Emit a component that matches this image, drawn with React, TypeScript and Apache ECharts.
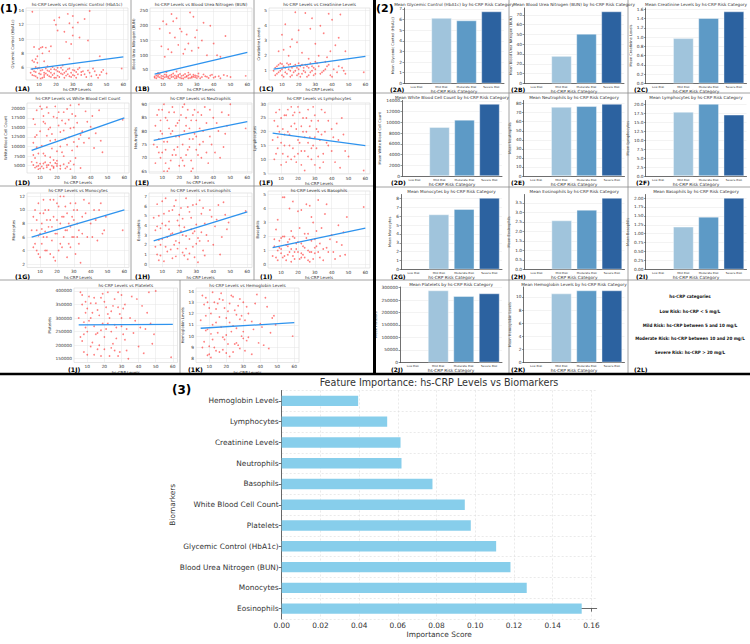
import React, { useEffect, useRef } from "react";
import * as echarts from "echarts";

// ---------------- DATA ----------------
const crpTicks = [10, 20, 30, 40, 50, 60];

const hba1cPts = [[6,13.8],[7,8.9],[8,7.2],[6,7.0],[7,6.8],[9,6.7],[10,8.6],[12,8.9],[14,8.8],[17,9.0],[12,8.0],[20,12.0],[21,11.2],[22,13.0],[26,9.6],[28,12.2],[29,9.3],[30,13.2],[30,11.6],[30,10.5],[33,12.3],[37,12.8],[39,9.8],[40,13.9],[46,7.6],[28,7.3],[59,5.9],[6,5.0],[7,5.5],[8,4.8],[9,5.9],[10,5.2],[11,5.6],[12,4.6],[13,5.3],[14,5.9],[15,5.0],[16,5.5],[17,4.7],[18,6.1],[19,5.2],[20,5.7],[21,4.9],[22,5.4],[23,6.0],[24,5.1],[25,4.6],[26,5.5],[27,5.8],[28,4.8],[29,5.3],[30,5.7],[31,4.9],[32,5.4],[34,6.0],[35,5.0],[36,5.5],[38,4.7],[40,5.3],[42,5.9],[44,5.0],[45,4.6],[47,5.4],[50,5.2],[8,6.1],[11,4.5],[15,6.2],[19,4.6],[24,6.3],[33,5.1],[13,5.0],[17,5.8],[21,6.0],
  [5,5.3],[6,5.8],[7,4.9],[8,5.4],[9,4.6],[10,6.0],[11,5.1],[12,5.7],[13,4.7],[14,5.2],[15,5.6],[16,4.8],[17,5.3],[18,5.0],[19,5.8],[20,4.6],[21,5.5],[22,4.7],[23,5.2],[24,5.7],[25,5.3],[26,4.9],[27,5.1],[28,5.9],[29,4.7],[30,5.0],[31,5.6],[32,4.6],[33,5.8],[35,5.4],[37,5.1],[39,5.6],[41,4.8],[43,5.5],[46,5.0],[48,5.7],[9,7.6],[11,8.8],[13,6.9],[16,8.3],[19,12.6],[25,11.0],[34,10.2],[27,13.5]];
const bunPts = [[8,190],[10,215],[12,205],[13,120],[14,175],[15,110],[17,160],[18,225],[19,135],[21,180],[22,105],[24,170],[25,140],[27,115],[28,230],[30,185],[31,125],[33,150],[36,100],[38,200],[40,140],[44,95],[47,165],[11,95],[26,245],[5,28],[6,22],[7,33],[8,25],[9,30],[10,20],[11,35],[12,27],[13,23],[14,31],[15,26],[16,38],[17,22],[18,29],[19,33],[20,24],[21,30],[22,21],[23,36],[24,27],[25,32],[26,23],[27,28],[28,34],[29,25],[30,30],[32,22],[34,35],[36,27],[38,31],[40,24],[43,29],[46,33],[50,26],[59,30],[7,40],[12,42],[18,45],[25,41],[31,38],
  [5,24],[6,31],[7,27],[8,36],[9,22],[10,29],[11,25],[12,33],[13,28],[14,21],[15,34],[16,27],[17,31],[18,23],[19,27],[20,36],[21,22],[22,32],[23,25],[24,30],[25,22],[26,35],[27,24],[28,27],[29,31],[30,23],[31,28],[33,26],[35,29],[37,23],[39,34],[41,27],[44,22],[48,30],[9,130],[16,215],[20,190],[23,120],[29,160],[34,210],[42,100],[15,240]];
const creatPts = [[10,3.4],[12,4.1],[15,2.6],[18,4.9],[20,3.7],[22,2.2],[24,4.85],[28,4.5],[30,2.8],[32,2.0],[35,3.5],[38,4.8],[40,4.4],[42,2.7],[45,4.75],[14,2.0],[26,1.8],[37,1.9],[48,2.3],[8,2.3],[6,1.2],[7,0.8],[8,1.4],[9,1.0],[10,0.7],[11,1.3],[12,0.9],[13,1.5],[14,1.1],[15,0.6],[16,1.2],[17,0.9],[18,1.4],[19,0.7],[20,1.1],[21,1.3],[22,0.8],[23,1.0],[24,1.4],[25,0.6],[26,1.2],[27,0.9],[28,1.3],[29,0.7],[30,1.1],[31,1.5],[33,0.8],[35,1.0],[37,1.3],[39,0.7],[41,1.1],[43,0.9],[46,1.2],[48,0.8],[59,0.9],[10,1.45],[15,1.45],[20,1.5],[30,1.6],[36,1.6],
  [5,1.0],[6,0.7],[7,1.3],[8,0.9],[9,1.5],[10,1.1],[11,0.6],[12,1.2],[13,0.8],[14,1.4],[15,1.0],[16,0.7],[17,1.3],[18,1.0],[19,1.2],[20,0.8],[21,0.6],[22,1.4],[23,1.2],[24,0.9],[25,1.3],[26,0.7],[27,1.5],[28,1.0],[29,1.2],[30,0.8],[32,1.3],[34,0.9],[36,1.1],[38,1.4],[40,0.6],[44,1.3],[47,1.0],[11,2.4],[16,3.1],[19,2.9],[27,3.8],[33,4.0],[39,2.3],[44,3.2]];
const wbcPts = [[6,17200],[7,12500],[8,13000],[6,7800],[7,7000],[9,5000],[10,20500],[11,19800],[12,18000],[13,16000],[14,20300],[15,14500],[16,11500],[17,9500],[18,6500],[19,20500],[20,17500],[21,15500],[22,13800],[23,16800],[24,19000],[25,12000],[26,10500],[27,17000],[28,20800],[29,9000],[30,15000],[31,18000],[33,21000],[34,13000],[36,11000],[38,16500],[40,15200],[42,9600],[45,19500],[47,8500],[59,17000],[8,9800],[12,8200],[16,7200],[20,8800],[24,7500],[28,6200],[32,10000],[6,5200],[7,4500],[8,5800],[9,4100],[10,5500],[11,4800],[12,4300],[13,5900],[14,4600],[15,5200],[16,4000],[17,5000],[18,4400],[19,5700],[20,4900],[22,4200],[24,5400],[26,4700],[28,4100],[30,5300],[34,4400],
  [5,6000],[6,11000],[7,15800],[8,19500],[9,8200],[10,14000],[11,10200],[12,16500],[13,7600],[14,12800],[15,18800],[16,15000],[17,13300],[18,17800],[19,11800],[20,6300],[21,19000],[22,10000],[23,8500],[24,14200],[25,16000],[26,19800],[27,12400],[28,14800],[29,18500],[30,11200],[31,7000],[32,16200],[33,12000],[35,14000],[37,19200],[39,12200],[41,18000],[43,13500],[46,11500],[8,4800],[10,4300],[12,5600],[14,5100],[16,5800],[18,4700],[20,5500],[22,5000],[25,4300],[27,5700]];
const neutPts = [[6,82],[7,74],[8,88],[9,70],[10,79],[11,65],[12,85],[13,76],[14,81],[15,69],[16,89],[17,73],[18,78],[19,83],[20,67],[21,86],[22,75],[23,80],[24,71],[25,88],[26,77],[27,84],[28,66],[29,79],[30,73],[31,87],[32,81],[33,70],[34,76],[35,89],[36,83],[37,68],[38,78],[40,85],[41,72],[43,80],[45,87],[46,74],[48,82],[50,90],[59,81],[8,77],[10,72],[12,68],[14,87],[16,80],[18,71],[20,84],[22,69],[24,82],[26,74],[28,86],[30,78],[9,84],[11,90],
  [5,75],[6,68],[7,86],[8,72],[9,80],[10,88],[11,76],[12,73],[13,84],[14,66],[15,79],[16,71],[17,87],[18,82],[19,74],[20,78],[21,70],[22,89],[23,67],[24,85],[25,73],[26,81],[27,69],[28,77],[29,88],[30,84],[31,71],[32,75],[33,86],[34,80],[36,72],[38,88],[39,75],[42,83],[44,70],[47,79],[49,86],[13,65],[23,90],[27,65]];
const lymphPts = [[6,24],[7,12],[8,18],[9,28],[10,8],[11,21],[12,15],[13,26],[14,11],[15,19],[16,29],[17,14],[18,23],[19,9],[20,17],[21,27],[22,13],[23,20],[24,6],[25,25],[26,16],[27,22],[28,10],[29,29],[30,18],[31,14],[32,24],[33,7],[34,19],[35,12],[36,27],[38,15],[40,21],[42,9],[44,17],[46,25],[48,13],[59,6],[8,22],[10,16],[12,26],[14,20],[16,10],[18,27],[20,12],[22,22],[24,18],[26,28],[28,14],[30,8],[32,20],[37,16],[45,7],
  [5,17],[6,10],[7,27],[8,14],[9,20],[10,25],[11,12],[12,19],[13,9],[14,28],[15,15],[16,22],[17,26],[18,11],[19,21],[20,29],[21,16],[22,8],[23,25],[24,13],[25,20],[26,11],[27,18],[28,24],[29,15],[30,26],[31,21],[32,11],[33,17],[34,28],[35,9],[36,20],[38,24],[40,13],[41,18],[43,23],[47,19],[50,11]];
const monoPts = [[6,9],[7,5],[8,7],[9,11],[10,3],[11,8],[12,6],[13,10],[14,4],[15,7.5],[16,11.5],[17,5.5],[18,9],[19,2.5],[20,6.5],[21,10.5],[22,8],[23,4.5],[24,12],[25,7],[26,9.5],[27,5],[28,11],[29,6],[30,8.5],[31,3.5],[32,10],[33,7],[34,2.2],[35,9],[36,11.5],[38,6],[40,8],[42,10],[44,5.5],[46,11],[48,7],[59,7],[8,4],[10,6.5],[12,9.5],[14,6],[16,8.5],[18,3],[20,11],[22,5],[24,9],[26,3],[28,7.5],[30,10],[32,6],[9,6.2],[11,7.2],[13,6.8],
  [5,7],[6,4.5],[7,10],[8,8.5],[9,3.5],[10,9.5],[11,5],[12,11.5],[13,4],[14,8.5],[15,10],[16,3.5],[17,7.5],[18,11.5],[19,6.5],[20,8.5],[21,4],[22,12],[23,9],[24,6],[25,10.5],[26,7],[27,8],[28,4.5],[29,9],[30,6],[31,11],[32,8],[33,5],[35,6.5],[37,9.5],[39,11],[41,6],[43,8.5],[45,10],[47,6.5],[49,9]];
const eosPts = [[6,3.5],[7,1],[8,5],[9,2],[10,6.5],[11,0.3],[12,4],[13,2.8],[14,5.5],[15,1.5],[16,3.2],[17,6],[18,0.8],[19,4.5],[20,2.2],[21,5.8],[22,1.2],[23,3.8],[24,6.8],[25,0.5],[26,2.6],[27,4.8],[28,1.8],[29,3.4],[30,6.2],[31,0.2],[32,2.4],[33,5.2],[34,1.4],[35,4.2],[36,3],[38,5.6],[40,2],[42,4.6],[44,1],[46,6.4],[48,3.6],[59,5.5],[8,2.5],[10,4.2],[12,1.8],[14,3.6],[16,0.6],[18,2.4],[20,4],[22,3],[24,1.6],[26,5.4],[28,3.2],[30,2.1],[7,3.9],[9,0.9],
  [5,4.8],[6,1.8],[7,6.2],[8,0.4],[9,3.7],[10,2.6],[11,5.2],[12,6.8],[13,1.3],[14,4.4],[15,3.1],[16,5.6],[17,2],[18,6.6],[19,1.6],[20,5.1],[21,3.4],[22,4.7],[23,0.9],[24,2.9],[25,5.9],[26,1.1],[27,3.6],[28,6.1],[29,0.7],[30,4.1],[31,2.7],[32,6.6],[33,3.3],[34,5.8],[35,0.9],[37,2.4],[39,4.9],[41,3.9],[43,6.1],[45,2.8],[47,5.1],[49,4.3]];
const basoPts = [[6,1.8],[7,0.5],[8,3.2],[9,1.2],[10,0.8],[11,2.0],[12,4.8],[13,0.3],[14,1.6],[15,0.9],[16,2.4],[17,0.6],[18,1.9],[19,1.1],[20,3.8],[21,0.4],[22,1.5],[23,0.7],[24,2.2],[25,4.3],[26,1.0],[27,0.2],[28,1.7],[29,3.0],[30,0.8],[31,1.3],[32,4.6],[33,0.5],[34,2.6],[35,1.1],[36,3.6],[38,0.9],[40,2.1],[42,0.4],[44,2.8],[46,1.4],[48,0.7],[59,4.1],[8,1.0],[10,1.9],[12,0.6],[14,1.3],[16,0.2],[18,0.9],[20,1.6],[22,0.5],[24,1.2],[26,0.3],[28,0.9],[30,1.8],[11,4.8],[15,4.0],[37,4.3],
  [5,0.6],[6,1.3],[7,2.5],[8,0.3],[9,1.7],[10,1.1],[11,0.5],[12,2.0],[13,1.4],[14,0.7],[15,1.8],[16,1.1],[17,2.0],[18,0.4],[19,1.5],[20,0.9],[21,2.6],[22,0.8],[23,1.3],[24,0.5],[25,1.9],[26,2.2],[27,0.9],[28,3.4],[29,0.4],[30,1.2],[31,2.4],[32,0.9],[33,1.5],[35,0.3],[37,1.2],[39,1.8],[41,0.9],[43,1.6],[45,0.6],[47,2.3],[49,3.4],[17,4.5],[22,3.9],[27,4.2]];
const pltPts = [[6,395000],[7,350000],[8,240000],[9,320000],[10,165000],[11,380000],[12,300000],[13,210000],[14,270000],[15,355000],[16,185000],[17,310000],[18,255000],[19,390000],[20,230000],[21,340000],[22,280000],[23,160000],[24,325000],[25,205000],[26,370000],[27,265000],[28,395000],[29,175000],[30,300000],[31,335000],[32,220000],[33,260000],[34,150000],[36,380000],[38,290000],[40,195000],[42,345000],[44,260000],[46,395000],[48,205000],[50,400000],[59,155000],[8,285000],[10,335000],[12,195000],[14,375000],[16,245000],[18,160000],[20,360000],[22,315000],[24,250000],[26,180000],[28,340000],[30,270000],[7,215000],[9,265000],
  [5,300000],[6,230000],[7,385000],[8,175000],[9,360000],[10,250000],[11,290000],[12,355000],[13,320000],[14,165000],[15,240000],[16,330000],[17,200000],[18,375000],[19,280000],[20,185000],[21,260000],[22,395000],[23,300000],[24,190000],[25,345000],[26,275000],[27,225000],[28,160000],[29,315000],[30,385000],[31,240000],[32,350000],[33,180000],[35,300000],[37,245000],[39,370000],[41,265000],[43,170000],[45,320000],[47,280000],[49,240000]];
const hgbPts = [[6,13.6],[7,9.5],[8,11.8],[9,8.3],[10,12.5],[11,10.2],[12,13.9],[13,9.0],[14,11.2],[15,12.9],[16,8.6],[17,10.8],[18,13.2],[19,9.7],[20,11.6],[21,12.2],[22,8.2],[23,10.4],[24,13.5],[25,9.3],[26,11.9],[27,12.7],[28,8.9],[29,10.0],[30,13.0],[31,11.4],[32,9.6],[33,12.0],[35,8.4],[36,10.6],[38,13.7],[40,11.1],[42,9.2],[44,12.6],[46,10.3],[48,11.8],[59,10.0],[8,10.5],[10,9.1],[12,11.0],[14,12.4],[16,13.3],[18,9.9],[20,8.5],[22,12.9],[24,10.9],[26,9.4],[28,11.5],[30,9.8],[9,13.0],[11,8.1],
  [5,11.4],[6,9.0],[7,12.8],[8,13.4],[9,10.6],[10,8.4],[11,12.0],[12,9.7],[13,13.0],[14,8.7],[15,10.3],[16,11.7],[17,13.8],[18,8.8],[19,12.5],[20,10.1],[21,9.3],[22,11.2],[23,13.6],[24,8.6],[25,12.3],[26,10.7],[27,9.2],[28,13.3],[29,11.8],[30,10.4],[31,8.7],[32,12.6],[33,9.9],[35,11.3],[37,12.9],[39,9.4],[41,10.8],[43,13.4],[45,8.9],[47,11.6],[49,11.0]];

// regression line endpoints [crp, value]
const hba1cFit = [[5, 5.8], [60, 7.5]];
const bunFit = [[5, 36], [60, 110]];
const creatFit = [[5, 1.1], [60, 1.95]];
const wbcFit = [[5, 9000], [60, 17500]];
const neutFit = [[5, 76.5], [60, 83.5]];
const lymphFit = [[5, 19.5], [60, 15]];
const monoFit = [[5, 6], [60, 10]];
const eosFit = [[5, 2.4], [60, 5.4]];
const basoFit = [[5, 1.2], [60, 2.6]];
const pltFit = [[5, 275000], [60, 277000]];
const hgbFit = [[5, 10.7], [60, 11.2]];

const hba1cTicks = [6, 8, 10, 12, 14];
const bunTicks = [50, 100, 150, 200, 250];
const creatTicks = [1, 2, 3, 4, 5];
const wbcTicks = [5000, 7500, 10000, 12500, 15000, 17500, 20000];
const neutTicks = [65, 70, 75, 80, 85, 90];
const lymphTicks = [5, 10, 15, 20, 25, 30];
const monoTicks = [2, 4, 6, 8, 10, 12];
const eosTicks = [0, 1, 2, 3, 4, 5, 6, 7];
const basoTicks = [0, 1, 2, 3, 4, 5];
const pltTicks = [150000, 200000, 250000, 300000, 350000, 400000];
const hgbTicks = [8, 9, 10, 11, 12, 13, 14];

const riskCategories = ["Low Risk", "Mild Risk", "Moderate Risk", "Severe Risk"];
const meanHbA1c = [null, 6.13, 5.9, 6.75];
const meanBUN = [null, 27.8, 50.5, 73.4];
const meanCreat = [null, 0.97, 1.405, 1.55];
const meanWBC = [null, 9090, 10450, 13400];
const meanNeut = [null, 76.2, 77, 79.5];
const meanLymph = [null, 17.8, 20.0, 17.0];
const meanMono = [null, 6.2, 6.8, 8.07];
const meanEos = [null, 2.57, 3.13, 3.76];
const meanBaso = [null, 1.19, 1.47, 2.0];
const meanPlt = [null, 288000, 265000, 276000];
const meanHgb = [null, 10.5, 10.97, 10.97];

const barTicksHbA1c = [0, 1, 2, 3, 4, 5, 6, 7];
const barTicksBUN = [0, 10, 20, 30, 40, 50, 60, 70];
const barTicksCreat = [0, 0.2, 0.4, 0.6, 0.8, 1.0, 1.2, 1.4, 1.6];
const barTicksWBC = [0, 2000, 4000, 6000, 8000, 10000, 12000, 14000];
const barTicksNeut = [0, 10, 20, 30, 40, 50, 60, 70, 80];
const barTicksLymph = [0, 2.5, 5, 7.5, 10, 12.5, 15, 17.5, 20];
const barTicksMono = [0, 1, 2, 3, 4, 5, 6, 7, 8];
const barTicksEos = [0, 0.5, 1, 1.5, 2, 2.5, 3, 3.5];
const barTicksBaso = [0, 0.25, 0.5, 0.75, 1, 1.25, 1.5, 1.75, 2];
const barTicksPlt = [0, 50000, 100000, 150000, 200000, 250000, 300000];
const barTicksHgb = [0, 2, 4, 6, 8, 10];

const featureNames = ["Eosinophils", "Monocytes", "Blood Urea Nitrogen (BUN)", "Glycemic Control (HbA1c)", "Platelets", "White Blood Cell Count", "Basophils", "Neutrophils", "Creatinine Levels", "Lymphocytes", "Hemoglobin Levels"];
const featureScores = [0.155, 0.1266, 0.1182, 0.1108, 0.0977, 0.0946, 0.0779, 0.0619, 0.0614, 0.0545, 0.0395];
const featureTicks = [0, 0.02, 0.04, 0.06, 0.08, 0.1, 0.12, 0.14, 0.16];

const categoryNotes = [
  "hs-CRP categories",
  "Low Risk: hs-CRP < 5 mg/L",
  "Mild Risk: hs-CRP between 5 and 10 mg/L",
  "Moderate Risk: hs-CRP between 10 and 20 mg/L",
  "Severe Risk: hs-CRP > 20 mg/L",
];

// ---------------- LAYOUT ----------------
const FONT = "DejaVu Sans";
const NARROW = "'Liberation Sans Narrow', 'DejaVu Sans Condensed', 'Liberation Sans', sans-serif";
const barColors = ["#cfe1f2", "#a0c4dc", "#5d9ac6", "#2c62a0"];

const scatterCfgs = [
  { lab: "(1A)", title: "hs-CRP Levels vs Glycemic Control (HbA1c)", yName: "Glycemic Control (HbA1c)", data: hba1cPts, fit: hba1cFit, ticks: hba1cTicks, ymin: 4.29, ymax: 14.32, l: 26, t: 8, w: 102, h: 72, gap: 8, lx: 15, ly: 88, ty: 4 },
  { lab: "(1B)", title: "hs-CRP Levels vs Blood Urea Nitrogen (BUN)", yName: "Blood Urea Nitrogen (BUN)", data: bunPts, fit: bunFit, ticks: bunTicks, ymin: 16, ymax: 260, l: 150, t: 8, w: 102, h: 72, gap: 12, lx: 135, ly: 88, ty: 4 },
  { lab: "(1C)", title: "hs-CRP Levels vs Creatinine Levels", yName: "Creatinine Levels", data: creatPts, fit: creatFit, ticks: creatTicks, ymin: 0.38, ymax: 5.18, l: 269, t: 8, w: 101, h: 72, gap: 6, lx: 259, ly: 88, ty: 4 },
  { lab: "(1D)", title: "hs-CRP Levels vs White Blood Cell Count", yName: "White Blood Cell Count", data: wbcPts, fit: wbcFit, ticks: wbcTicks, ymin: 3092, ymax: 21385, l: 27, t: 103, w: 102, h: 70, gap: 15, lx: 15, ly: 182, ty: 98 },
  { lab: "(1E)", title: "hs-CRP Levels vs Neutrophils", yName: "Neutrophils", data: neutPts, fit: neutFit, ticks: neutTicks, ymin: 64.3, ymax: 90.5, l: 149, t: 103, w: 103, h: 70, gap: 9, lx: 135, ly: 182, ty: 98 },
  { lab: "(1F)", title: "hs-CRP Levels vs Lymphocytes", yName: "Lymphocytes", data: lymphPts, fit: lymphFit, ticks: lymphTicks, ymin: 4.7, ymax: 30.4, l: 268, t: 103, w: 102, h: 71, gap: 7, lx: 259, ly: 182, ty: 98 },
  { lab: "(1G)", title: "hs-CRP Levels vs Monocytes", yName: "Monocytes", data: monoPts, fit: monoFit, ticks: monoTicks, ymin: 1.5, ymax: 12.5, l: 27, t: 193, w: 102, h: 74.5, gap: 8, lx: 15, ly: 276, ty: 190 },
  { lab: "(1H)", title: "hs-CRP Levels vs Eosinophils", yName: "Eosinophils", data: eosPts, fit: eosFit, ticks: eosTicks, ymin: -0.35, ymax: 7.35, l: 149, t: 193, w: 103, h: 74.5, gap: 6, lx: 135, ly: 276, ty: 190 },
  { lab: "(1I)", title: "hs-CRP Levels vs Basophils", yName: "Basophils", data: basoPts, fit: basoFit, ticks: basoTicks, ymin: -0.25, ymax: 5.25, l: 268, t: 191, w: 102, h: 77, gap: 6, lx: 260, ly: 276, ty: 190 },
  { lab: "(1J)", title: "hs-CRP Levels vs Platelets", yName: "Platelets", data: pltPts, fit: pltFit, ticks: pltTicks, ymin: 136000, ymax: 411000, l: 74, t: 288, w: 103.5, h: 74.5, gap: 16, lx: 68, ly: 369, ty: 285 },
  { lab: "(1K)", title: "hs-CRP Levels vs Hemoglobin Levels", yName: "Hemoglobin Levels", data: hgbPts, fit: hgbFit, ticks: hgbTicks, ymin: 7.66, ymax: 14.27, l: 196, t: 288, w: 103, h: 74.5, gap: 7, lx: 188, ly: 369, ty: 285 },
];

const barCfgs = [
  { lab: "(2A)", title: "Mean Glycemic Control (HbA1c) by hs-CRP Risk Category", yName: "Mean Glycemic Control (HbA1c)", data: meanHbA1c, ticks: barTicksHbA1c, dec: 0, l: 404, t: 8, w: 100, h: 75.3, gap: 5, lx: 390, ly: 89, ty: 4 },
  { lab: "(2B)", title: "Mean Blood Urea Nitrogen (BUN) by hs-CRP Risk Category", yName: "Mean Blood Urea Nitrogen (BUN)", data: meanBUN, ticks: barTicksBUN, dec: 0, l: 524, t: 8, w: 100, h: 75.3, gap: 7, lx: 511, ly: 89, ty: 4 },
  { lab: "(2C)", title: "Mean Creatinine Levels by hs-CRP Risk Category", yName: "Mean Creatinine Levels", data: meanCreat, ticks: barTicksCreat, dec: 1, l: 645.5, t: 8, w: 101, h: 75.3, gap: 9, lx: 634, ly: 89, ty: 4 },
  { lab: "(2D)", title: "Mean White Blood Cell Count by hs-CRP Risk Category", yName: "Mean White Blood Cell Count", data: meanWBC, ticks: barTicksWBC, dec: 0, l: 402, t: 100.5, w: 100, h: 75.5, gap: 14, lx: 391, ly: 182.5, ty: 97 },
  { lab: "(2E)", title: "Mean Neutrophils by hs-CRP Risk Category", yName: "Mean Neutrophils", data: meanNeut, ticks: barTicksNeut, dec: 0, l: 523.5, t: 100.5, w: 101, h: 75.5, gap: 7, lx: 511, ly: 182.5, ty: 97 },
  { lab: "(2F)", title: "Mean Lymphocytes by hs-CRP Risk Category", yName: "Mean Lymphocytes", data: meanLymph, ticks: barTicksLymph, dec: 1, l: 645.5, t: 100.5, w: 101, h: 75.5, gap: 10, lx: 636, ly: 182.5, ty: 97 },
  { lab: "(2G)", title: "Mean Monocytes by hs-CRP Risk Category", yName: "Mean Monocytes", data: meanMono, ticks: barTicksMono, dec: 0, l: 401, t: 194.5, w: 101, h: 74.8, gap: 6, lx: 391, ly: 276.5, ty: 191 },
  { lab: "(2H)", title: "Mean Eosinophils by hs-CRP Risk Category", yName: "Mean Eosinophils", data: meanEos, ticks: barTicksEos, dec: 1, l: 524, t: 194.5, w: 100.5, h: 74.8, gap: 9, lx: 511, ly: 276.5, ty: 191 },
  { lab: "(2I)", title: "Mean Basophils by hs-CRP Risk Category", yName: "Mean Basophils", data: meanBaso, ticks: barTicksBaso, dec: 2, l: 645.5, t: 194.5, w: 101, h: 74.8, gap: 11, lx: 636, ly: 276.5, ty: 191 },
  { lab: "(2J)", title: "Mean Platelets by hs-CRP Risk Category", yName: "Mean Platelets", data: meanPlt, ticks: barTicksPlt, dec: 0, l: 400, t: 287, w: 102, h: 75.3, gap: 15, lx: 391, ly: 369.5, ty: 284 },
  { lab: "(2K)", title: "Mean Hemoglobin Levels by hs-CRP Risk Category", yName: "Mean Hemoglobin Levels", data: meanHgb, ticks: barTicksHgb, dec: 0, l: 523.5, t: 287, w: 101, h: 75.3, gap: 7, lx: 511, ly: 369.5, ty: 284 },
];

function buildOption() {
  const grid: any[] = [];
  const xAxis: any[] = [];
  const yAxis: any[] = [];
  const series: any[] = [];
  const graphic: any[] = [];
  const txt = (text: string, x: number, y: number, size: number, opts: any = {}) => ({
    type: "text", x, y, silent: true, z: 100,
    style: { text, fontSize: size, fontFamily: opts.family || FONT, fill: opts.fill || "#222", fontWeight: opts.weight || "normal", align: opts.align || "left", verticalAlign: "middle" },
    rotation: opts.rotation || 0,
  });

  scatterCfgs.forEach((c) => {
    const gi = grid.length;
    grid.push({ left: c.l, top: c.t, width: c.w, height: c.h, show: true, borderColor: "#d6d6d6", borderWidth: 0.6, containLabel: false });
    xAxis.push({
      type: "value", gridIndex: gi, min: 2.25, max: 62.75,
      axisLine: { show: false }, axisTick: { show: false, customValues: crpTicks },
      axisLabel: { customValues: crpTicks, fontSize: 4.3, color: "#333", margin: 2, fontFamily: FONT, formatter: (v: number) => String(v) },
      splitLine: { show: true, lineStyle: { color: "#e4e4e4", width: 0.5 } },
      name: "hs-CRP Levels", nameLocation: "middle", nameGap: 7.5,
      nameTextStyle: { fontSize: 4, color: "#333", fontFamily: FONT },
    });
    yAxis.push({
      type: "value", gridIndex: gi, min: c.ymin, max: c.ymax,
      axisLine: { show: false }, axisTick: { show: false, customValues: c.ticks },
      axisLabel: { customValues: c.ticks, fontSize: 4.3, color: "#333", margin: 2, fontFamily: FONT, formatter: (v: number) => String(v) },
      splitLine: { show: true, lineStyle: { color: "#e4e4e4", width: 0.5 } },
      name: c.yName, nameLocation: "middle", nameGap: c.gap,
      nameTextStyle: { fontSize: 3.8, color: "#333", fontFamily: FONT },
    });
    series.push({ type: "scatter", xAxisIndex: gi, yAxisIndex: gi, data: c.data, symbolSize: 1.7, itemStyle: { color: "rgba(255,30,30,0.72)" }, silent: true });
    series.push({ type: "line", xAxisIndex: gi, yAxisIndex: gi, data: c.fit, showSymbol: false, lineStyle: { color: "#2e93ee", width: 1.3 }, silent: true, z: 5 });
    graphic.push(txt(c.title, c.l + c.w / 2, c.ty, 4.2, { align: "center", fill: "#333" }));
    graphic.push(txt(c.lab, c.lx, c.ly, 6.2, { weight: "bold", fill: "#000" }));
  });

  barCfgs.forEach((c) => {
    const gi = grid.length;
    const vals = c.data.filter((v) => v != null) as number[];
    const ymax = Math.max(...vals) * 1.05;
    grid.push({ left: c.l, top: c.t, width: c.w, height: c.h, containLabel: false });
    xAxis.push({
      type: "category", gridIndex: gi, data: riskCategories,
      axisLine: { show: true, lineStyle: { color: "#333", width: 0.7 } }, axisTick: { show: false },
      axisLabel: { fontSize: 2.8, color: "#333", margin: 2, interval: 0, fontFamily: FONT },
      name: "hs-CRP Risk Category", nameLocation: "middle", nameGap: 6.5,
      nameTextStyle: { fontSize: 4.3, color: "#333", fontFamily: FONT },
    });
    yAxis.push({
      type: "value", gridIndex: gi, min: 0, max: ymax,
      axisLine: { show: true, lineStyle: { color: "#333", width: 0.7 } },
      axisTick: { show: true, length: 1.5, customValues: c.ticks, lineStyle: { color: "#333", width: 0.5 } },
      axisLabel: { customValues: c.ticks, fontSize: 4.3, color: "#333", margin: 2, fontFamily: FONT, formatter: (v: number) => v.toFixed(c.dec) },
      splitLine: { show: true, lineStyle: { color: "#e6e6e6", width: 0.5 } },
      name: c.yName, nameLocation: "middle", nameGap: c.gap,
      nameTextStyle: { fontSize: 3.6, color: "#333", fontFamily: FONT },
    });
    series.push({
      type: "bar", xAxisIndex: gi, yAxisIndex: gi, barWidth: "80%", silent: true,
      data: c.data.map((v, i) => ({ value: v, itemStyle: { color: barColors[i], borderColor: "#ffffff", borderWidth: 0.4 } })),
    });
    graphic.push(txt(c.title, c.l + c.w / 2, c.ty, 4.2, { align: "center", fill: "#333" }));
    graphic.push(txt(c.lab, c.lx, c.ly, 6, { weight: "bold", fill: "#000" }));
  });

  // Feature importance
  const fi = grid.length;
  grid.push({ left: 281.7, top: 390.5, width: 315, height: 228.5, containLabel: false });
  xAxis.push({
    type: "value", gridIndex: fi, min: 0, max: 0.16275,
    axisLine: { show: true, lineStyle: { color: "#444", width: 0.8 } },
    axisTick: { show: true, length: 3, customValues: featureTicks, lineStyle: { color: "#444", width: 0.8 } },
    axisLabel: { customValues: featureTicks, fontSize: 7.4, color: "#333", margin: 3, fontFamily: FONT, formatter: (v: number) => v.toFixed(2) },
    splitLine: { show: true, lineStyle: { color: "#dcdcdc", width: 0.6, type: [2, 2] } },
    name: "Importance Score", nameLocation: "middle", nameGap: 12,
    nameTextStyle: { fontSize: 7.4, color: "#333", fontFamily: FONT },
  });
  yAxis.push({
    type: "category", gridIndex: fi, data: featureNames,
    axisLine: { show: true, lineStyle: { color: "#444", width: 0.8 } },
    axisTick: { show: true, length: 3, alignWithLabel: true, lineStyle: { color: "#444", width: 0.8 } },
    axisLabel: { fontSize: 7.4, color: "#333", margin: 3, fontFamily: FONT },
    splitLine: { show: false },
    name: "Biomarkers", nameLocation: "middle", nameGap: 101,
    nameTextStyle: { fontSize: 7.4, color: "#333", fontFamily: FONT },
  });
  yAxis.push({
    type: "value", gridIndex: fi, min: -0.5, max: 10.5, position: "right",
    axisLine: { show: false }, axisTick: { show: false }, axisLabel: { show: false },
    splitLine: { show: true, lineStyle: { color: "#dcdcdc", width: 0.6, type: [2, 2] } },
    interval: 1,
  });
  series.push({ type: "bar", xAxisIndex: fi, yAxisIndex: fi, data: featureScores, barWidth: "50%", itemStyle: { color: "#87ceeb" }, silent: true, z: 3 });
  graphic.push(txt("Feature Importance: hs-CRP Levels vs Biomarkers", 439, 382, 9.6, { align: "center", fill: "#333" }));

  // 2L notes
  const noteY = [296, 311, 325, 338.5, 352];
  categoryNotes.forEach((s, i) => {
    graphic.push(txt(s, 690, noteY[i], 4.5, { align: "center", weight: "bold", fill: "#111", family: NARROW }));
  });
  graphic.push(txt("(2L)", 634, 369.5, 6, { weight: "bold", fill: "#000" }));

  // panel labels
  graphic.push(txt("(1)", 0, 8, 11, { weight: "bold", fill: "#000" }));
  graphic.push(txt("(2)", 376, 8, 11, { weight: "bold", fill: "#000" }));
  graphic.push(txt("(3)", 172, 390, 12, { weight: "bold", fill: "#000" }));

  // separators
  const thin = (x1: number, y1: number, x2: number, y2: number) => ({ type: "line", silent: true, z: 90, shape: { x1, y1, x2, y2 }, style: { stroke: "#8a8a8a", lineWidth: 0.8 } });
  const thick = (x1: number, y1: number, x2: number, y2: number, w: number) => ({ type: "line", silent: true, z: 95, shape: { x1, y1, x2, y2 }, style: { stroke: "#000", lineWidth: w } });
  graphic.push(thin(131, 0, 131, 280), thin(254, 0, 254, 280), thin(180, 280, 180, 374));
  graphic.push(thin(0, 93, 373, 93), thin(0, 186, 373, 186), thin(0, 280, 373, 280));
  graphic.push(thin(509, 0, 509, 374), thin(628, 0, 628, 374));
  graphic.push(thin(375, 93, 750, 93), thin(375, 187, 750, 187), thin(375, 280, 750, 280));
  graphic.push(thick(374.5, 0, 374.5, 375, 3), thick(0, 374, 750, 374, 2.5));

  return { animation: false, backgroundColor: "#ffffff", grid, xAxis, yAxis, series, graphic };
}

export default function App() {
  const ref = useRef<HTMLDivElement>(null);
  useEffect(() => {
    if (!ref.current) return;
    const chart = echarts.init(ref.current, undefined, { renderer: "svg", width: 750, height: 644 });
    chart.setOption(buildOption() as any);
    return () => chart.dispose();
  }, []);
  return <div ref={ref} style={{ position: "fixed", left: 0, top: 0, width: 750, height: 644, background: "#fff" }} />;
}
